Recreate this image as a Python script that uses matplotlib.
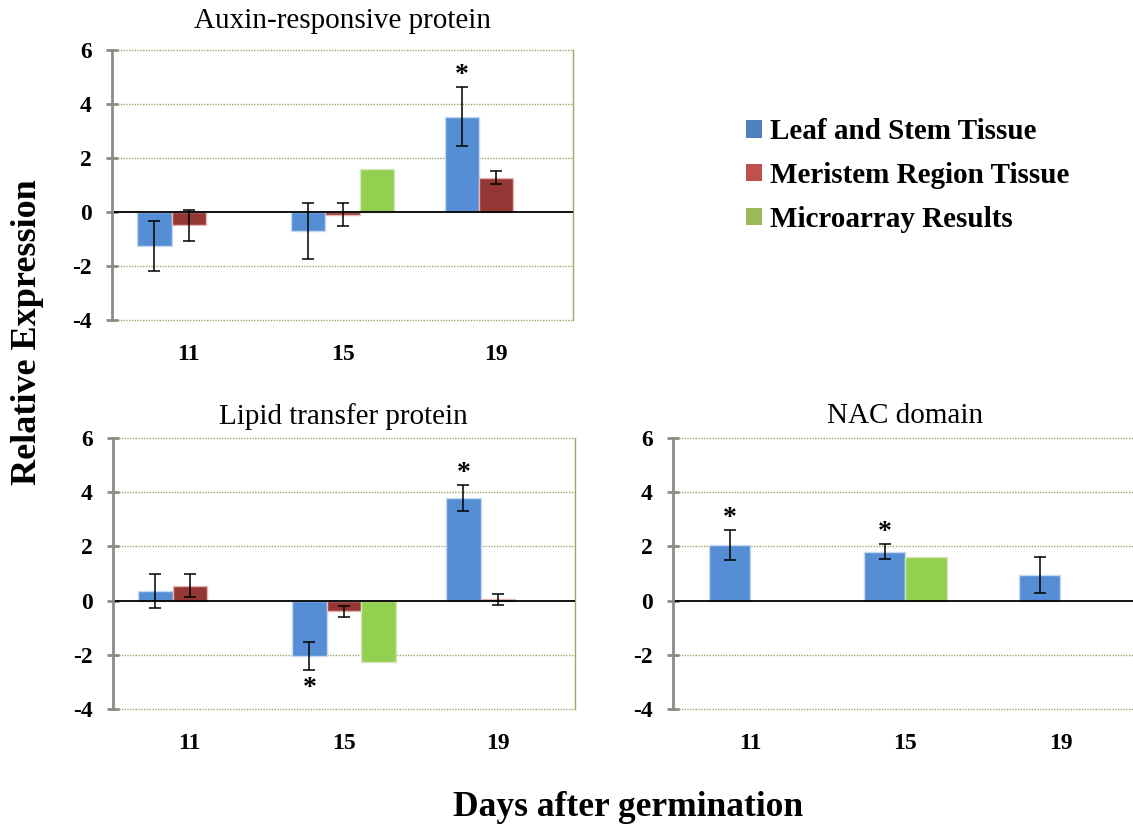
import numpy as np
import matplotlib
matplotlib.use("Agg")
import matplotlib.pyplot as plt
from matplotlib.patches import Patch

categories = ["11", "15", "19"]
series_names = ["Leaf and Stem Tissue", "Meristem Region Tissue", "Microarray Results"]

# Auxin-responsive protein
aux_leaf = [-1.27, -0.70, 3.53]
aux_leaf_err = [0.92, 1.04, 1.10]
aux_mer = [-0.50, -0.10, 1.27]
aux_mer_err = [0.57, 0.43, 0.25]
aux_micro = [np.nan, 1.59, np.nan]

# Lipid transfer protein
lip_leaf = [0.35, -2.04, 3.79]
lip_leaf_err = [0.63, 0.53, 0.49]
lip_mer = [0.55, -0.40, 0.05]
lip_mer_err = [0.43, 0.19, 0.20]
lip_micro = [np.nan, -2.25, np.nan]

# NAC domain (no meristem data)
nac_leaf = [2.06, 1.81, 0.94]
nac_leaf_err = [0.55, 0.28, 0.66]
nac_micro = [np.nan, 1.62, np.nan]

# significance stars: (series index, category index, 'up'/'down')
aux_stars = [(0, 2, "up")]
lip_stars = [(0, 2, "up"), (0, 1, "down")]
nac_stars = [(0, 0, "up"), (0, 1, "up")]

bar_colors = ["#558ed5", "#953735", "#92d050"]
edge_colors = ["#c6d9f1", "#e6b9b8", "#d7e4bd"]
legend_colors = ["#4f81bd", "#c0504d", "#9bbb59"]
grid_color = "#a8a06a"

serif = ["Liberation Serif", "DejaVu Serif"]
plt.rcParams["font.family"] = serif

fig = plt.figure(figsize=(11.33, 8.30), dpi=100)


def panel(rect, title, title_pad, vals, errs, colors, edges, width, stars):
    ax = fig.add_axes(rect)
    x = np.arange(len(categories))
    n = len(vals)
    for i in range(n):
        off = (i - (n - 1) / 2) * width
        v = np.array(vals[i], dtype=float)
        ax.bar(x + off, v, width=width, color=colors[i], edgecolor=edges[i],
               linewidth=1.0, zorder=3)
        if errs[i] is not None:
            ax.errorbar(x + off, v, yerr=errs[i], fmt="none", ecolor="black",
                        elinewidth=1.1, capsize=4, capthick=1.1, zorder=4)
    for (si, ci, d) in stars:
        off = (si - (n - 1) / 2) * width
        v = vals[si][ci]
        e = errs[si][ci]
        if d == "up":
            ax.annotate("*", (ci + off, v + e), xytext=(0, -1),
                        textcoords="offset points", ha="center", va="bottom",
                        fontsize=20, fontweight="bold", zorder=5)
        else:
            ax.annotate("*", (ci + off, v - e), xytext=(0, -4),
                        textcoords="offset points", ha="center", va="top",
                        fontsize=20, fontweight="bold", zorder=5)
    ax.set_xlim(-0.5, 2.5)
    ax.set_ylim(-4, 6)
    ax.set_yticks([-4, -2, 0, 2, 4, 6])
    ax.set_yticklabels(["-4", "-2", "0", "2", "4", "6"])
    ax.set_xticks(x)
    ax.set_xticklabels(categories)
    for lab in ax.get_yticklabels() + ax.get_xticklabels():
        lab.set_fontweight("bold")
        lab.set_fontsize(17)
    ax.tick_params(axis="x", length=0, pad=17)
    ax.tick_params(axis="y", direction="inout", length=9, width=2,
                   color="#8c8c8c", pad=10)
    for yv in [-4, -2, 2, 4, 6]:
        ax.axhline(yv, color=grid_color, linestyle=(0, (1, 1)), linewidth=1.0,
                   zorder=1, clip_on=False)
    ax.axhline(0, color="black", linewidth=1.3, zorder=4)
    ax.spines["left"].set_color("#8c8c8c")
    ax.spines["left"].set_linewidth(2)
    ax.spines["left"].set_zorder(5)
    ax.spines["bottom"].set_visible(False)
    ax.spines["top"].set_visible(False)
    ax.spines["right"].set_color(grid_color)
    ax.spines["right"].set_linestyle((0, (1, 1)))
    ax.spines["right"].set_linewidth(1.0)
    ax.set_title(title, fontsize=21, pad=title_pad)
    return ax


panel([0.0988, 0.6145, 0.407, 0.3253], "Auxin-responsive protein", 16,
      [aux_leaf, aux_mer, aux_micro], [aux_leaf_err, aux_mer_err, None],
      bar_colors, edge_colors, 0.224, aux_stars)
panel([0.0995, 0.1458, 0.408, 0.3265], "Lipid transfer protein", 10,
      [lip_leaf, lip_mer, lip_micro], [lip_leaf_err, lip_mer_err, None],
      bar_colors, edge_colors, 0.224, lip_stars)
panel([0.594, 0.1458, 0.4104, 0.3265], "NAC domain", 11,
      [nac_leaf, nac_micro], [nac_leaf_err, None],
      [bar_colors[0], bar_colors[2]], [edge_colors[0], edge_colors[2]],
      0.27, nac_stars)

handles = [Patch(facecolor=c, edgecolor="none") for c in legend_colors]
fig.legend(handles, series_names, loc="upper left",
           bbox_to_anchor=(0.635, 0.889), frameon=False,
           prop={"family": serif, "weight": "bold", "size": 21},
           handlelength=0.55, handleheight=0.55, handletextpad=0.28,
           labelspacing=0.57)

fig.text(0.024, 0.60, "Relative Expression", rotation=90, ha="center",
         va="center", fontsize=26, fontweight="bold")
fig.text(0.554, 0.027, "Days after germination", ha="center", va="center",
         fontsize=25.5, fontweight="bold")

fig.savefig("out.png", dpi=100)
